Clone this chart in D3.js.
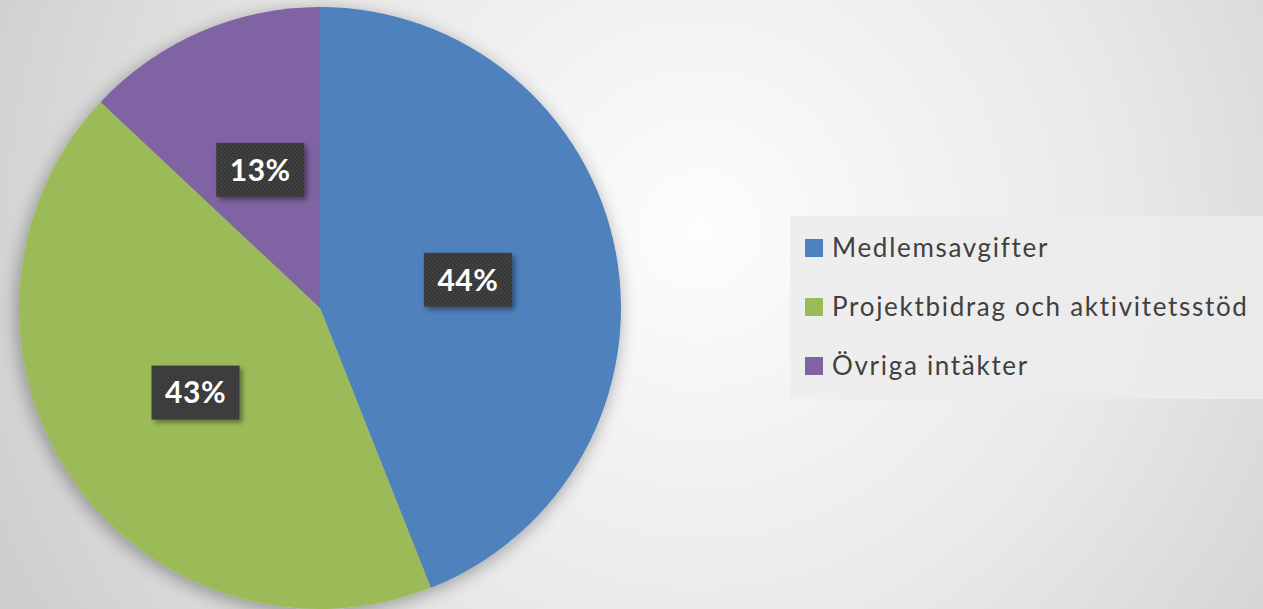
<!DOCTYPE html>
<html>
<head>
<meta charset="utf-8">
<script src="https://cdn.jsdelivr.net/npm/d3@7"></script>
<style>
  html, body { margin: 0; padding: 0; overflow: hidden; }
  svg { display: block; }
</style>
</head>
<body>
<svg id="chart"></svg>
<script>
let categories = ["Medlemsavgifter", "Projektbidrag och aktivitetsstöd", "Övriga intäkter"];
let values = [44, 43, 13];
let labels = ["44%", "43%", "13%"];
let colors = ["#4f81bd", "#9bbb59", "#8064a2"];

let width = 1263;
let height = 609;

let svg = d3.select("#chart")
    .attr("width", width)
    .attr("height", height);

let defs = svg.append("defs");

// background gradient
let bg = defs.append("radialGradient")
    .attr("id", "bg")
    .attr("gradientUnits", "userSpaceOnUse")
    .attr("cx", 700).attr("cy", 230).attr("r", 760);
bg.append("stop").attr("offset", "0%").attr("stop-color", "#fdfdfd");
bg.append("stop").attr("offset", "55%").attr("stop-color", "#e9e9e9");
bg.append("stop").attr("offset", "100%").attr("stop-color", "#cfcfcf");

// pie shadow
let sh = defs.append("filter").attr("id", "shadow")
    .attr("x", "-20%").attr("y", "-20%").attr("width", "140%").attr("height", "140%");
sh.append("feGaussianBlur").attr("in", "SourceAlpha").attr("stdDeviation", 9);
sh.append("feOffset").attr("dx", -2).attr("dy", 4).attr("result", "b");
sh.append("feComponentTransfer").append("feFuncA").attr("type", "linear").attr("slope", 0.35);
let m = sh.append("feMerge");
m.append("feMergeNode");
m.append("feMergeNode").attr("in", "SourceGraphic");

// dotted texture for label boxes
let pat = defs.append("pattern").attr("id", "dots")
    .attr("width", 4).attr("height", 4).attr("patternUnits", "userSpaceOnUse");
pat.append("rect").attr("width", 4).attr("height", 4).attr("fill", "#363636");
pat.append("circle").attr("cx", 1).attr("cy", 1).attr("r", 0.9).attr("fill", "#4c4c4c");
pat.append("circle").attr("cx", 3).attr("cy", 3).attr("r", 0.9).attr("fill", "#444444");

let lsh = defs.append("filter").attr("id", "lshadow")
    .attr("x", "-20%").attr("y", "-20%").attr("width", "150%").attr("height", "150%");
lsh.append("feGaussianBlur").attr("in", "SourceAlpha").attr("stdDeviation", 2.5);
lsh.append("feOffset").attr("dx", 3).attr("dy", 3).attr("result", "b");
lsh.append("feComponentTransfer").append("feFuncA").attr("type", "linear").attr("slope", 0.4);
let lm = lsh.append("feMerge");
lm.append("feMergeNode");
lm.append("feMergeNode").attr("in", "SourceGraphic");

svg.append("rect")
    .attr("width", width).attr("height", height)
    .attr("fill", "url(#bg)");

let cx = 320, cy = 308, radius = 301;

let pie = d3.pie().sort(null).value(d => d);
let arcs = pie(values);
let arc = d3.arc().innerRadius(0).outerRadius(radius);
let labelArc = d3.arc().innerRadius(radius * 0.5).outerRadius(radius * 0.5);

let g = svg.append("g").attr("transform", `translate(${cx}, ${cy})`);

g.append("g").attr("filter", "url(#shadow)")
  .selectAll("path")
  .data(arcs)
  .enter()
  .append("path")
  .attr("d", arc)
  .attr("fill", (d, i) => colors[i]);

let lab = g.selectAll(".lab")
  .data(arcs)
  .enter()
  .append("g")
  .attr("class", "lab")
  .attr("transform", d => `translate(${labelArc.centroid(d)})`);

lab.append("rect")
  .attr("x", -44).attr("y", -27)
  .attr("width", 88).attr("height", 54)
  .attr("fill", "url(#dots)")
  .attr("filter", "url(#lshadow)");

lab.append("text")
  .attr("text-anchor", "middle")
  .attr("dy", "0.36em")
  .attr("fill", "#ffffff")
  .style("font-family", "Lato, 'Open Sans', sans-serif")
  .style("font-weight", "bold")
  .style("font-size", "30px")
  .style("letter-spacing", "0.5px")
  .text((d, i) => labels[i]);

// legend
let legend = svg.append("g");
legend.append("rect")
  .attr("x", 790).attr("y", 216)
  .attr("width", width - 790).attr("height", 183)
  .attr("fill", "#ececec")
  .attr("opacity", 0.85);

let rowY = d3.scalePoint().domain(categories).range([248, 366]);

let item = legend.selectAll(".item")
  .data(categories)
  .enter()
  .append("g")
  .attr("class", "item")
  .attr("transform", d => `translate(805, ${rowY(d)})`);

item.append("rect")
  .attr("x", 0).attr("y", -9)
  .attr("width", 18).attr("height", 18)
  .attr("fill", (d, i) => colors[i]);

item.append("text")
  .attr("x", 27)
  .attr("dy", "0.35em")
  .attr("fill", "#404040")
  .style("font-family", "Lato, 'Open Sans', sans-serif")
  .style("font-size", "26px")
  .style("letter-spacing", "1.7px")
  .text(d => d);
</script>
</body>
</html>
